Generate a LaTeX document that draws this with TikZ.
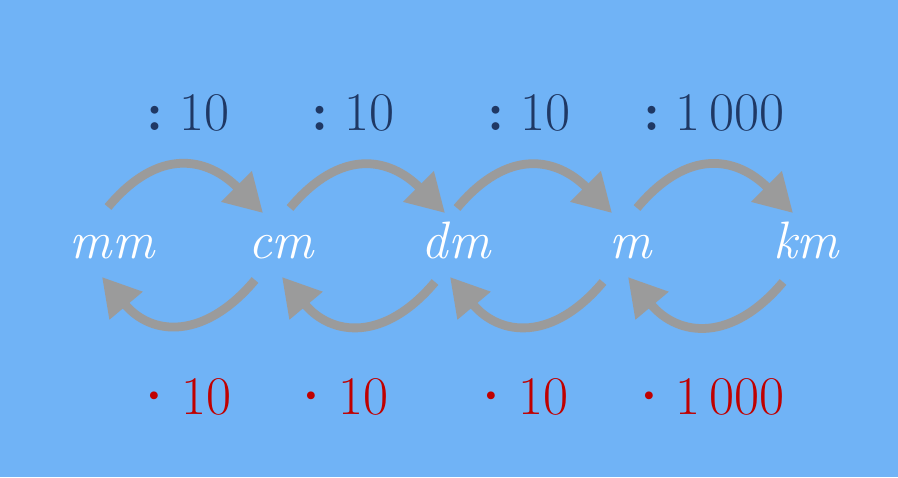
\documentclass[tikz,border=0pt]{standalone}
\usepackage{fontspec}
\usetikzlibrary{arrows.meta}
\definecolor{bgblue}{RGB}{112,179,246}
\definecolor{divblue}{RGB}{31,56,100}
\definecolor{mulred}{RGB}{192,0,0}
\definecolor{arcgray}{RGB}{155,155,155}
\tikzset{
  unit/.style={anchor=base,text=white,font=\fontsize{30}{36}\selectfont\itshape},
  div/.style={anchor=base,text=divblue,font=\fontsize{31}{36}\selectfont},
  mul/.style={anchor=base,text=mulred,font=\fontsize{31}{36}\selectfont},
  arc/.style={draw=arcgray,line width=5pt,looseness=1.3,-{Triangle[length=0.75cm,width=0.82cm]}},
}
\newcommand{\dv}{\textbf{:}\hspace{0.28em}}
\newcommand{\ml}{\textbf{·}\hspace{0.05em}}
\begin{document}
\begin{tikzpicture}[x=0.02cm,y=0.02cm]

	\fill[bgblue] (0,0) rectangle (898,-477);

	\node[unit] at (112,-258) (mm) {mm};
	\node[unit] at (281,-258) (cm) {cm};
	\node[unit] at (456,-258) (dm) {dm};
	\node[unit] at (631,-258) (m) {m};
	\node[unit] at (806,-258) (km) {km};

	\node[div] at (188,-130) (div1) {\dv 10};
	\node[div] at (353,-130) (div2) {\dv 10};
	\node[div] at (529,-130) (div3) {\dv 10};
	\node[div] at (714,-130) (div4) {\dv 1\,000};

	\node[mul] at (181,-414) (mul1) {\ml 10};
	\node[mul] at (338,-414) (mul2) {\ml 10};
	\node[mul] at (518,-414) (mul3) {\ml 10};
	\node[mul] at (705,-414) (mul4) {\ml 1\,000};

	% division arcs
	\draw[arc] ([shift={(-4,51)}]mm.base) to[out=50,in=135] ([shift={(-18,45)}]cm.base);
	\draw[arc] ([shift={(9,50)}]cm.base) to[out=50,in=135] ([shift={(-11,45)}]dm.base);
	\draw[arc] ([shift={(1,50)}]dm.base) to[out=50,in=135] ([shift={(-19,45)}]m.base);
	\draw[arc] ([shift={(6,50)}]m.base) to[out=50,in=135] ([shift={(-13,45)}]km.base);

	% multiplication arcs
	\draw[arc] ([shift={(-26,-22)}]cm.base) to[out=230,in=-50] ([shift={(-10,-19)}]mm.base);
	\draw[arc] ([shift={(-21,-24)}]dm.base) to[out=230,in=-50] ([shift={(1,-19)}]cm.base);
	\draw[arc] ([shift={(-28,-24)}]m.base) to[out=230,in=-50] ([shift={(-6,-19)}]dm.base);
	\draw[arc] ([shift={(-23,-24)}]km.base) to[out=230,in=-50] ([shift={(-3,-19)}]m.base);

\end{tikzpicture}
\end{document}
